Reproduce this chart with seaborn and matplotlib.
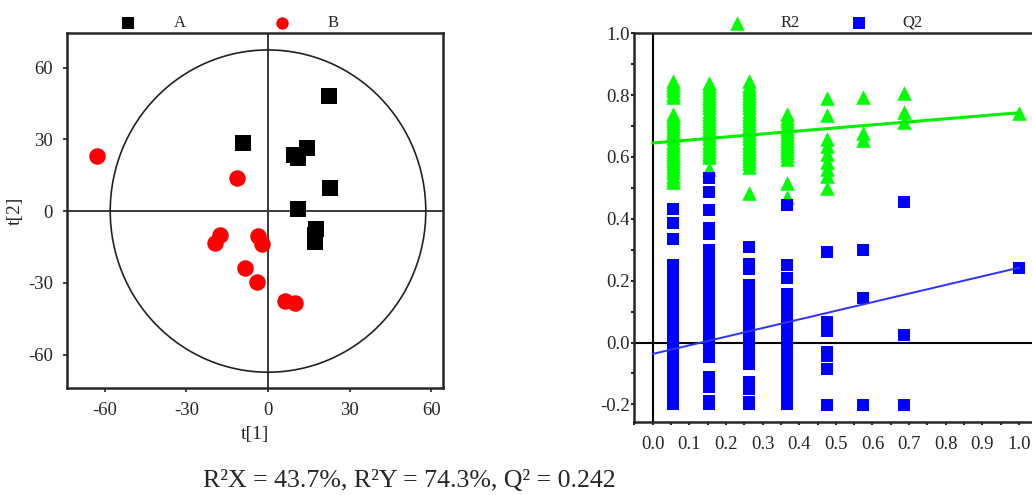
import numpy as np
import pandas as pd
import matplotlib
matplotlib.use("Agg")
import matplotlib.pyplot as plt
import seaborn as sns
from matplotlib.patches import Ellipse
from matplotlib.ticker import MultipleLocator, FormatStrFormatter

# ---------------- Score plot (t[1] vs t[2]) ----------------
a_t1 = [-9.3, 22.5, 14.5, 9.6, 11.1, 22.8, 11.1, 17.6, 17.4, 17.3]
a_t2 = [28.6, 48.1, 26.2, 23.4, 22.0, 9.5, 0.7, -7.7, -10.2, -12.8]
b_t1 = [-63.0, -11.3, -17.6, -19.5, -3.6, -2.3, -8.5, -4.2, 6.3, 9.9]
b_t2 = [23.0, 13.7, -10.0, -13.5, -10.3, -13.9, -24.0, -29.6, -37.7, -38.6]
group_labels = ["A", "B"]
ellipse_semi_axes = [58.0, 67.4]
score_ticks = [-60, -30, 0, 30, 60]

# ---------------- Permutation plot ----------------
perm_x = [0.055, 0.154, 0.264, 0.366, 0.475, 0.573, 0.687]
r2_cols = [
    [0.52, 0.53, 0.54, 0.55, 0.56, 0.57, 0.58, 0.59, 0.60, 0.61, 0.62, 0.63, 0.64, 0.65,
     0.66, 0.67, 0.68, 0.69, 0.70, 0.71, 0.72, 0.73, 0.74,
     0.795, 0.805, 0.815, 0.825, 0.835, 0.845],
    [0.56, 0.60, 0.61, 0.62, 0.63, 0.64, 0.65, 0.66, 0.67, 0.68, 0.69, 0.70, 0.71, 0.72,
     0.73, 0.74, 0.75, 0.76, 0.77, 0.78, 0.79, 0.80, 0.81, 0.82, 0.83, 0.838],
    [0.483, 0.568, 0.58, 0.59, 0.60, 0.61, 0.62, 0.63, 0.64, 0.65, 0.66, 0.67, 0.68, 0.69,
     0.70, 0.71, 0.72, 0.73, 0.74, 0.75, 0.76, 0.77, 0.78, 0.79, 0.80, 0.81, 0.82, 0.83,
     0.845],
    [0.472, 0.515, 0.594, 0.605, 0.615, 0.625, 0.635, 0.645, 0.655, 0.665, 0.675, 0.685,
     0.695, 0.705, 0.715, 0.727, 0.74],
    [0.499, 0.537, 0.56, 0.585, 0.61, 0.635, 0.657, 0.736, 0.792],
    [0.655, 0.677, 0.793],
    [0.714, 0.747, 0.806],
]
q2_cols = [
    [-0.20, -0.18, -0.16, -0.14, -0.12, -0.10, -0.08, -0.06, -0.04, -0.02, 0.0, 0.02, 0.04,
     0.06, 0.08, 0.10, 0.12, 0.14, 0.16, 0.18, 0.20, 0.22, 0.25, 0.335, 0.386, 0.431],
    [-0.20, -0.19, -0.145, -0.128, -0.111, -0.048, -0.03, -0.01, 0.01, 0.03, 0.05, 0.07, 0.09,
     0.11, 0.13, 0.15, 0.17, 0.19, 0.21, 0.23, 0.25, 0.27, 0.298, 0.35, 0.37, 0.429, 0.486, 0.531],
    [-0.20, -0.192, -0.151, -0.128, -0.07, -0.05, -0.03, -0.01, 0.01, 0.03, 0.05, 0.07, 0.09,
     0.11, 0.13, 0.15, 0.17, 0.185, 0.237, 0.255, 0.31],
    [-0.20, -0.18, -0.16, -0.14, -0.12, -0.10, -0.08, -0.06, -0.04, -0.02, 0.0, 0.02, 0.04,
     0.06, 0.08, 0.10, 0.12, 0.14, 0.158, 0.208, 0.251, 0.445],
    [-0.201, -0.085, -0.043, -0.031, 0.038, 0.066, 0.294],
    [-0.201, 0.144, 0.30],
    [-0.201, 0.025, 0.453],
]
orig_x = 1.0
r2_orig = 0.743
q2_orig = 0.242
r2_intercept = 0.645
q2_intercept = -0.037
perm_labels = ["R2", "Q2"]
caption = "R\u00b2X = 43.7%, R\u00b2Y = 74.3%, Q\u00b2 = 0.242"

# ---------------- styling ----------------
sns.set_style("ticks")
plt.rcParams["font.family"] = ["Liberation Serif", "DejaVu Serif"]
plt.rcParams["axes.linewidth"] = 1.6
plt.rcParams["axes.unicode_minus"] = False

fig = plt.figure(figsize=(10.32, 4.95), dpi=100)
ax1 = fig.add_axes([0.0649, 0.2162, 0.3643, 0.7172])
ax2 = fig.add_axes([0.6143, 0.1475, 0.3857, 0.7859])

# ----- left: score plot -----
df_a = pd.DataFrame({"t1": a_t1, "t2": a_t2})
df_b = pd.DataFrame({"t1": b_t1, "t2": b_t2})
ax1.axhline(0, color="#3a3a3a", lw=1.4, zorder=1)
ax1.axvline(0, color="#3a3a3a", lw=1.4, zorder=1)
ax1.add_patch(Ellipse((0, 0), 2 * ellipse_semi_axes[0], 2 * ellipse_semi_axes[1],
                      fill=False, edgecolor="#222222", lw=1.2, zorder=1))
sns.scatterplot(data=df_a, x="t1", y="t2", ax=ax1, marker="s", s=117, color="black",
                linewidth=0, label=group_labels[0], zorder=3)
sns.scatterplot(data=df_b, x="t1", y="t2", ax=ax1, marker="o", s=141, color="red",
                linewidth=0, label=group_labels[1], zorder=3)
ax1.set_xlim(-73.9, 64.3)
ax1.set_ylim(-74, 74.5)
ax1.set_xticks(score_ticks)
ax1.set_yticks(score_ticks)
ax1.tick_params(axis="both", direction="out", length=3, width=1.2, labelsize=13.5, pad=7)
ax1.set_xlabel("t[1]", fontsize=14, labelpad=5)
ax1.set_ylabel("t[2]", fontsize=14, labelpad=3)
for sp in ax1.spines.values():
    sp.set_linewidth(1.8)
ax1.legend(loc="center left", bbox_to_anchor=(0.129, 1.028), ncol=2, frameon=False,
           borderpad=0, borderaxespad=0, handlelength=1.5, handletextpad=2.0,
           columnspacing=5.0, fontsize=12, markerscale=0.75)

# ----- right: permutation plot -----
r2_df = pd.DataFrame({"x": [x for x, col in zip(perm_x, r2_cols) for _ in col] + [orig_x],
                      "y": [v for col in r2_cols for v in col] + [r2_orig]})
q2_df = pd.DataFrame({"x": [x for x, col in zip(perm_x, q2_cols) for _ in col] + [orig_x],
                      "y": [v for col in q2_cols for v in col] + [q2_orig]})
ax2.axhline(0, color="black", lw=1.5, zorder=1)
ax2.axvline(0, color="black", lw=1.5, zorder=1)
sns.scatterplot(data=r2_df, x="x", y="y", ax=ax2, marker="^", s=110, color="#00ff00",
                linewidth=0, label=perm_labels[0], zorder=3)
sns.scatterplot(data=q2_df, x="x", y="y", ax=ax2, marker="s", s=63, color="#0000ff",
                linewidth=0, label=perm_labels[1], zorder=4)
ax2.plot([0, orig_x], [r2_intercept, r2_orig], color="#00ee00", lw=2.2, zorder=5)
ax2.plot([0, orig_x], [q2_intercept, q2_orig], color="#3030ff", lw=1.4, zorder=5)
ax2.set_xlim(-0.051, 1.0355)
ax2.set_ylim(-0.257, 1.001)
ax2.xaxis.set_major_locator(MultipleLocator(0.1))
ax2.xaxis.set_minor_locator(MultipleLocator(0.05))
ax2.yaxis.set_major_locator(MultipleLocator(0.2))
ax2.yaxis.set_minor_locator(MultipleLocator(0.1))
ax2.xaxis.set_major_formatter(FormatStrFormatter("%.1f"))
ax2.yaxis.set_major_formatter(FormatStrFormatter("%.1f"))
ax2.tick_params(axis="both", which="both", direction="out", length=2, width=1.5, labelsize=13.5)
ax2.tick_params(axis="x", which="major", pad=8)
ax2.tick_params(axis="y", which="major", pad=1)
ax2.set_xlabel("")
ax2.set_ylabel("")
ax2.spines["right"].set_visible(False)
for sp in ["left", "top", "bottom"]:
    ax2.spines[sp].set_linewidth(1.8)
ax2.legend(loc="center left", bbox_to_anchor=(0.228, 1.0257), ncol=2, frameon=False,
           borderpad=0, borderaxespad=0, handlelength=1.5, handletextpad=1.85,
           columnspacing=2.8, fontsize=12, markerscale=1.0)

fig.text(0.397, 1 - 481 / 495, caption, ha="center", va="center", fontsize=18.6)

fig.savefig("out.png", dpi=100)
